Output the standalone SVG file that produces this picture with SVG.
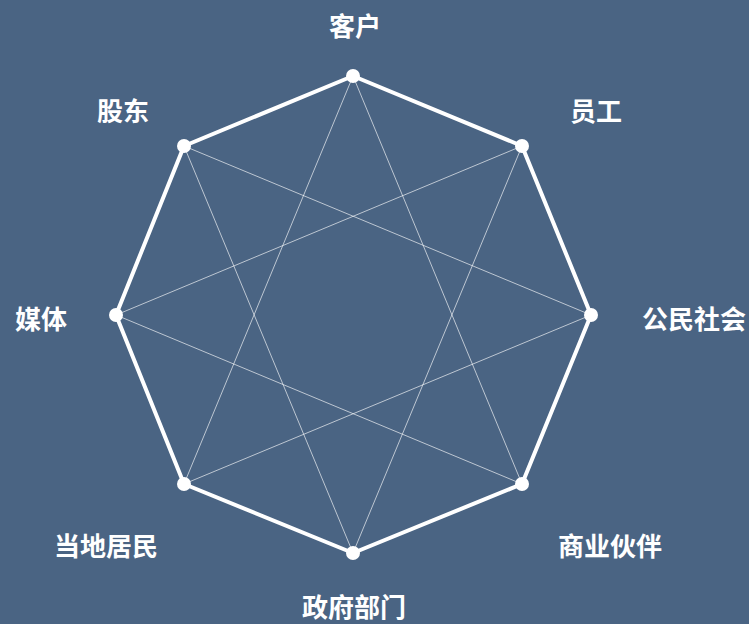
<svg xmlns="http://www.w3.org/2000/svg" width="749" height="624" viewBox="0 0 749 624">
<style>
.lbl{font-family:"Noto Sans CJK SC","Noto Sans",sans-serif;font-size:26px;font-weight:bold;fill:#ffffff;text-anchor:middle;dominant-baseline:central}
.dot{fill:#ffffff}
.oct{fill:none;stroke:#ffffff;stroke-width:4;stroke-linejoin:round}
.star{fill:none;stroke:#ffffff;stroke-width:0.8;stroke-opacity:0.8}
</style>
<rect width="749" height="624" fill="#4a6483"/>
<g id="connectors">
<polygon class="star" points="353,76 522,484 116,315 522,146 353,553 184,146 591,315 184,484"/>
<polygon class="oct" points="353,76 522,146 591,315 522,484 353,553 184,484 116,315 184,146"/>
</g>
<g id="n-kehu"><circle class="dot" cx="353" cy="76" r="7"/><text class="lbl" x="355" y="24">客户</text></g>
<g id="n-yuangong"><circle class="dot" cx="522" cy="146" r="7"/><text class="lbl" x="596" y="109">员工</text></g>
<g id="n-gongmin"><circle class="dot" cx="591" cy="315" r="7"/><text class="lbl" x="694" y="317">公民社会</text></g>
<g id="n-shangye"><circle class="dot" cx="522" cy="484" r="7"/><text class="lbl" x="610" y="544">商业伙伴</text></g>
<g id="n-zhengfu"><circle class="dot" cx="353" cy="553" r="7"/><text class="lbl" x="354" y="605">政府部门</text></g>
<g id="n-dangdi"><circle class="dot" cx="184" cy="484" r="7"/><text class="lbl" x="106" y="544">当地居民</text></g>
<g id="n-meiti"><circle class="dot" cx="116" cy="315" r="7"/><text class="lbl" x="41" y="317">媒体</text></g>
<g id="n-gudong"><circle class="dot" cx="184" cy="146" r="7"/><text class="lbl" x="123" y="109">股东</text></g>
</svg>
